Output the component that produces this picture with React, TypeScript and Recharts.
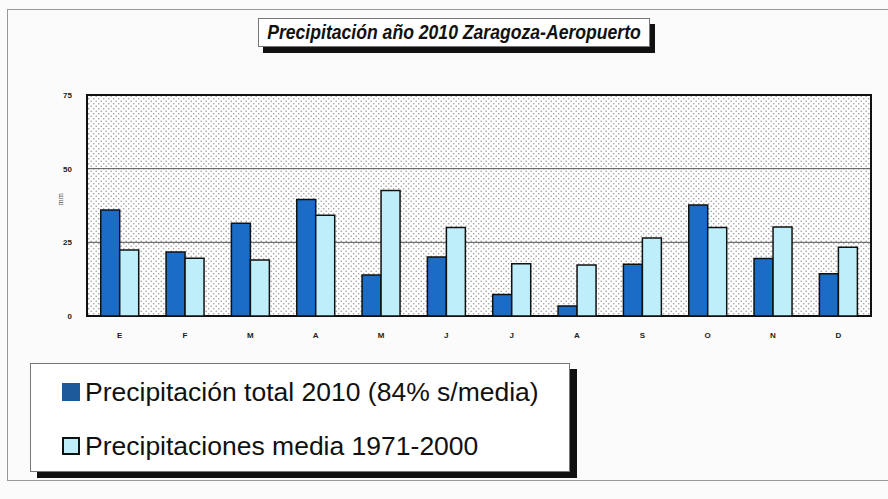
import React from 'react';
import { BarChart, Bar, XAxis, YAxis, CartesianGrid, Legend, ReferenceArea } from 'recharts';

const months = ['E', 'F', 'M', 'A', 'M', 'J', 'J', 'A', 'S', 'O', 'N', 'D'];
const total2010 = [36, 21.7, 31.5, 39.5, 13.9, 20, 7.3, 3.4, 17.6, 37.7, 19.5, 14.3];
const media7100 = [22.4, 19.6, 19, 34.2, 42.6, 30, 17.7, 17.3, 26.5, 30, 30.2, 23.3];
const yTicks = [0, 25, 50, 75];

const data = months.map((m, i) => ({ key: i, mes: m, total: total2010[i], media: media7100[i] }));

const DARK = '#1a6cc4';
const LIGHT = '#bdeefa';

const LegendBox = () => (
  <div
    style={{
      width: 540,
      height: 109,
      boxSizing: 'border-box',
      border: '1px solid #777',
      background: '#fff',
      boxShadow: '7px 6px 0 #111',
      fontFamily: '"Liberation Sans", Arial, sans-serif',
      fontSize: 26.5,
      color: '#111',
      paddingLeft: 31,
      paddingTop: 13,
    }}
  >
    <div style={{ display: 'flex', alignItems: 'center', height: 30 }}>
      <span style={{ width: 18, height: 18, background: '#1d5a9c', marginRight: 5, display: 'inline-block' }} />
      Precipitación total 2010 (84% s/media)
    </div>
    <div style={{ display: 'flex', alignItems: 'center', height: 30, marginTop: 24 }}>
      <span style={{ width: 14, height: 14, background: LIGHT, border: '2px solid #111', marginRight: 5, display: 'inline-block' }} />
      Precipitaciones media 1971-2000
    </div>
  </div>
);

export default function App() {
  return (
    <div style={{ position: 'fixed', left: 0, top: 0, width: 888, height: 499, background: '#fbfbfb', overflow: 'hidden' }}>
      <svg width={0} height={0} style={{ position: 'absolute' }}>
        <defs>
          <pattern id="dots" width={5} height={5} patternUnits="userSpaceOnUse">
            <rect width={5} height={5} fill="#ffffff" />
            <circle cx={1.2} cy={1.2} r={0.8} fill="#9a9a9a" />
            <circle cx={3.7} cy={3.7} r={0.8} fill="#9a9a9a" />
          </pattern>
        </defs>
      </svg>
      <div style={{ position: 'absolute', left: 7, top: 9, width: 900, height: 470, border: '1px solid #999', borderRight: 'none' }} />
      <div
        style={{
          position: 'absolute',
          left: 258,
          top: 18,
          width: 392,
          height: 29,
          boxSizing: 'border-box',
          border: '1px solid #777',
          background: '#fff',
          boxShadow: '5px 6px 0 #111',
          color: '#111',
        }}
      >
        <span
          style={{
            position: 'absolute',
            left: '50%',
            top: 0,
            whiteSpace: 'nowrap',
            fontFamily: '"Liberation Sans", Arial, sans-serif',
            fontWeight: 'bold',
            fontStyle: 'italic',
            fontSize: 20,
            lineHeight: '27px',
            transform: 'translateX(-50%) scaleX(0.88)',
          }}
        >
          Precipitación año 2010 Zaragoza-Aeropuerto
        </span>
      </div>
      <BarChart
        width={888}
        height={499}
        data={data}
        margin={{ top: 95, right: 17, bottom: 163, left: 30 }}
        barCategoryGap="21%"
        barGap={0}
      >
        <CartesianGrid vertical={false} fill="url(#dots)" stroke="#555" strokeWidth={1} />
        <XAxis
          dataKey="key"
          tickFormatter={(i: number) => months[i]}
          height={20}
          tickLine={false}
          axisLine={false}
          tick={{ fontSize: 8, fontWeight: 'bold', fill: '#222', fontFamily: '"Liberation Sans", Arial, sans-serif' }}
          tickMargin={10}
        />
        <YAxis
          domain={[0, 75]}
          ticks={yTicks}
          width={57}
          tickLine={false}
          axisLine={false}
          tick={{ fontSize: 8, fontWeight: 'bold', fill: '#222', fontFamily: '"Liberation Sans", Arial, sans-serif' }}
          tickMargin={9}
          label={{ value: 'mm', angle: -90, position: 'insideLeft', offset: 30, fontSize: 8, fill: '#555' }}
        />
        <ReferenceArea y1={0} y2={75} fill="none" stroke="#111" strokeWidth={2} ifOverflow="extendDomain" />
        <Bar dataKey="total" fill={DARK} stroke="#111" strokeWidth={1.5} isAnimationActive={false} />
        <Bar dataKey="media" fill={LIGHT} stroke="#111" strokeWidth={1.5} isAnimationActive={false} />
        <Legend
          layout="vertical"
          align="center"
          verticalAlign="middle"
          content={() => <LegendBox />}
          wrapperStyle={{ left: 30, top: 363, width: 540, height: 109 }}
        />
      </BarChart>
    </div>
  );
}
